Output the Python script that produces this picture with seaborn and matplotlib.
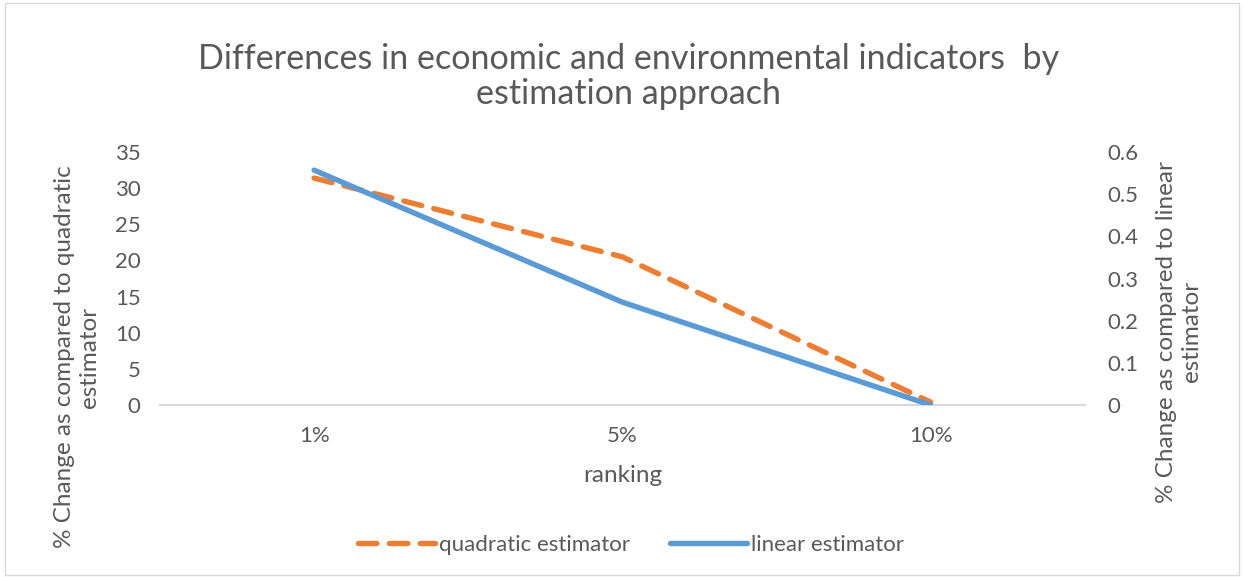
import matplotlib
matplotlib.use("Agg")
import matplotlib.pyplot as plt
import seaborn as sns
import pandas as pd
from matplotlib.patches import Rectangle

categories = ["1%", "5%", "10%"]
quadratic = [31.4, 20.5, 0.4]
linear = [0.557, 0.244, 0.0]

sns.set_theme(style="white")
plt.rcParams['font.family'] = ['Lato', 'DejaVu Sans']

GRAY = "#595959"
ORANGE = "#ED7D31"
BLUE = "#5B9BD5"

fig = plt.figure(figsize=(12.44, 5.77), dpi=100)
fig.patch.set_facecolor("white")
fig.add_artist(Rectangle((0.004, 0.004), 0.992, 0.990, transform=fig.transFigure,
                         fill=False, edgecolor="#d9d9d9", linewidth=1))

ax = fig.add_axes([0.1286, 0.298, 0.7434, 0.4385])
ax2 = ax.twinx()

df = pd.DataFrame({"ranking": categories, "quadratic": quadratic, "linear": linear})

sns.lineplot(data=df, x="ranking", y="quadratic", ax=ax, color=ORANGE, linewidth=3.9,
             sort=False, label="quadratic estimator", legend=False)
sns.lineplot(data=df, x="ranking", y="linear", ax=ax2, color=BLUE, linewidth=3.9,
             sort=False, label="linear estimator", legend=False)
ql = ax.lines[0]
ql.set_dashes((3.4, 2.3))
ql.set_dash_capstyle("round")
ql.set_zorder(3)
ax2.lines[0].set_solid_capstyle("round")

ax.set_xlim(-0.5, 2.5)
ax.set_ylim(0, 35)
ax2.set_ylim(0, 0.6)
ax.set_yticks(range(0, 36, 5))
ax2.set_yticks([0, 0.1, 0.2, 0.3, 0.4, 0.5, 0.6])
ax2.set_yticklabels(["0", "0.1", "0.2", "0.3", "0.4", "0.5", "0.6"])

for a in (ax, ax2):
    for s in a.spines.values():
        s.set_visible(False)
    a.tick_params(axis="both", length=0, labelsize=16, labelcolor=GRAY)
    a.grid(False)
ax.spines["bottom"].set_visible(True)
ax.spines["bottom"].set_color("#d9d9d9")
ax.spines["bottom"].set_linewidth(1.5)
ax.tick_params(axis="x", pad=15)
ax.tick_params(axis="y", pad=14)
ax2.tick_params(axis="y", pad=16)

ax.set_xlabel("ranking", fontsize=17.5, color=GRAY, labelpad=14)
ax.set_ylabel("% Change as compared to quadratic\nestimator", fontsize=17.5, color=GRAY,
              linespacing=1.2)
ax.yaxis.set_label_coords(-0.065, 0.19)
ax2.set_ylabel("% Change as compared to linear\nestimator", fontsize=17.5, color=GRAY,
               linespacing=1.25, rotation=90)
ax2.yaxis.set_label_coords(1.077, 0.289)

fig.text(0.505, 0.867, "Differences in economic and environmental indicators  by\nestimation approach",
         ha="center", va="center", fontsize=24.6, color=GRAY, linespacing=1.12)

handles = [ql, ax2.lines[0]]
fig.legend(handles, ["quadratic estimator", "linear estimator"], loc="center",
           bbox_to_anchor=(0.507, 0.055), ncol=2, frameon=False, fontsize=16,
           labelcolor=GRAY, handlelength=3.5, handletextpad=0.15, columnspacing=1.8)

fig.savefig("out.png", dpi=100)
